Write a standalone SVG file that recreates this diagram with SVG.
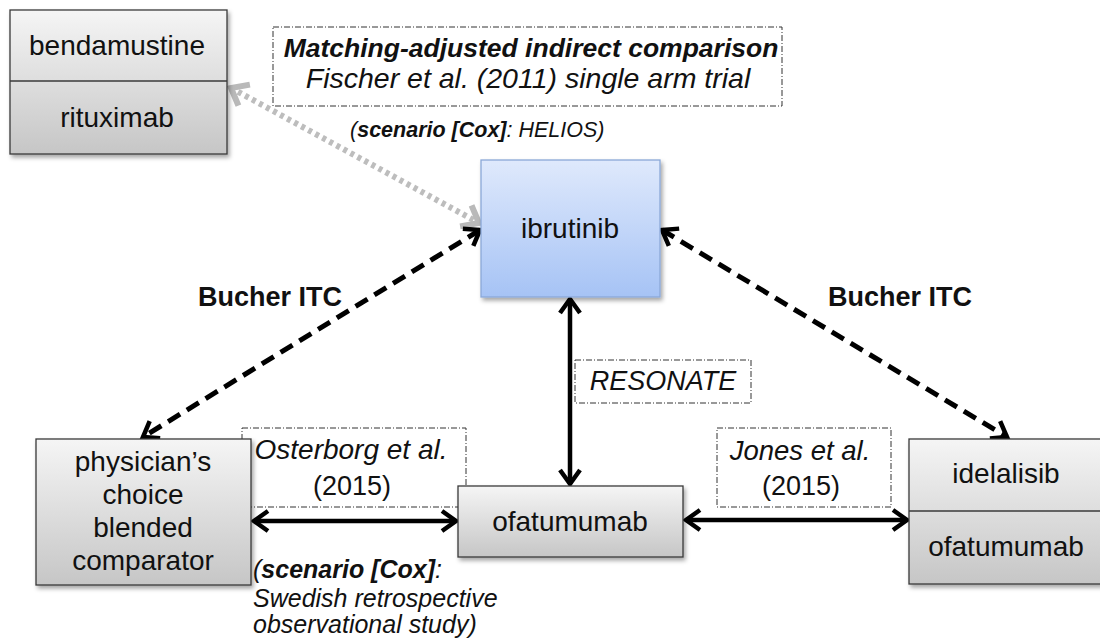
<svg xmlns="http://www.w3.org/2000/svg" width="1100" height="640" viewBox="0 0 1100 640">
  <defs>
    <linearGradient id="gGray" x1="0" y1="0" x2="0" y2="1">
      <stop offset="0" stop-color="#f5f5f5"/>
      <stop offset="1" stop-color="#c6c6c6"/>
    </linearGradient>
    <linearGradient id="gBlue" x1="0" y1="0" x2="0" y2="1">
      <stop offset="0" stop-color="#dfe9fc"/>
      <stop offset="1" stop-color="#a6c3f5"/>
    </linearGradient>
    <filter id="shadow" x="-10%" y="-10%" width="130%" height="130%">
      <feDropShadow dx="2" dy="3" stdDeviation="2" flood-color="#000" flood-opacity="0.35"/>
    </filter>
    <marker id="arrBlack" viewBox="-20 -14 24 28" refX="0" refY="0" markerWidth="24" markerHeight="28" markerUnits="userSpaceOnUse" orient="auto-start-reverse">
      <path d="M -14 -10 L 0 0 L -14 10" fill="none" stroke="#000" stroke-width="4.5" stroke-dasharray="none" stroke-linejoin="miter"/>
    </marker>
    <marker id="arrGray" viewBox="-22 -16 26 32" refX="0" refY="0" markerWidth="26" markerHeight="32" markerUnits="userSpaceOnUse" orient="auto-start-reverse">
      <path d="M -15 -12 L 0 0 L -15 12" fill="none" stroke="#b9b9b9" stroke-width="6" stroke-dasharray="none" stroke-linejoin="miter"/>
    </marker>
    <style>
      .box { fill: url(#gGray); stroke: #3a3a3a; stroke-width: 1.3; filter: url(#shadow); }
      .blue { fill: url(#gBlue); stroke: #8aa8d8; stroke-width: 1.3; filter: url(#shadow); }
      .div { stroke: #3a3a3a; stroke-width: 1.3; }
      .note { fill: #fff; stroke: #333; stroke-width: 1; stroke-dasharray: 6 2 1 2; }
      .lbl { font-family: "Liberation Sans", Arial, sans-serif; font-size: 28px; fill: #111; text-anchor: middle; }
      .it { font-family: "Liberation Sans", Arial, sans-serif; font-size: 28px; fill: #111; font-style: italic; }
      .itc { text-anchor: middle; }
      .bold { font-family: "Liberation Sans", Arial, sans-serif; font-size: 27px; fill: #111; font-weight: bold; }
      .sc { font-family: "Liberation Sans", Arial, sans-serif; font-size: 25px; fill: #111; font-style: italic; }
      .solid { fill: none; stroke: #000; stroke-width: 4.5; marker-start: url(#arrBlack); marker-end: url(#arrBlack); }
      .dash { fill: none; stroke: #000; stroke-width: 5; stroke-dasharray: 14 8; marker-start: url(#arrBlack); marker-end: url(#arrBlack); }
      .dot { fill: none; stroke: #bdbdbd; stroke-width: 6; stroke-dasharray: 4 4; marker-start: url(#arrGray); marker-end: url(#arrGray); }
    </style>
  </defs>
  <rect width="1100" height="640" fill="#fff"/>

  <g id="note-maic">
    <rect class="note" x="273" y="27" width="509" height="79"/>
    <text class="bold" x="531" y="57" text-anchor="middle" font-style="italic" style="font-size:26.5px">Matching-adjusted indirect comparison</text>
    <text class="it itc" x="528" y="88" style="font-size:28.5px">Fischer et al. (2011) single arm trial</text>
  </g>
  <g id="note-helios">
    <text class="sc" x="350" y="137" style="font-size:21.5px">(<tspan font-weight="bold">scenario [Cox]</tspan>: HELIOS)</text>
  </g>
  <g id="note-resonate">
    <rect class="note" x="575" y="360" width="176" height="43"/>
    <text class="it itc" x="663" y="390" style="font-size:27px">RESONATE</text>
  </g>
  <g id="note-osterborg">
    <rect class="note" x="242" y="428" width="224" height="79"/>
    <text class="it itc" x="351" y="459">Osterborg et al.</text>
    <text class="lbl" x="352" y="495" style="font-size:27px">(2015)</text>
  </g>
  <g id="note-jones">
    <rect class="note" x="717" y="428" width="174" height="79"/>
    <text class="it itc" x="800" y="460" style="font-size:27.5px">Jones et al.</text>
    <text class="lbl" x="801" y="495" style="font-size:27px">(2015)</text>
  </g>
  <g id="note-swedish">
    <text class="sc" x="253" y="578">(<tspan font-weight="bold">scenario [Cox]</tspan>:</text>
    <text class="sc" x="253" y="607">Swedish retrospective</text>
    <text class="sc" x="253" y="633">observational study)</text>
  </g>
  <g id="label-bucher-left">
    <text class="bold" x="198" y="306">Bucher ITC</text>
  </g>
  <g id="label-bucher-right">
    <text class="bold" x="828" y="306">Bucher ITC</text>
  </g>

  <g id="connectors">
    <line class="dot" x1="231" y1="88" x2="479" y2="223"/>
    <line class="dash" x1="480" y1="230" x2="143" y2="437"/>
    <line class="dash" x1="662" y1="230" x2="1007" y2="437"/>
    <line class="solid" x1="570" y1="299" x2="570" y2="484"/>
    <line class="solid" x1="254" y1="521" x2="456" y2="521"/>
    <line class="solid" x1="686" y1="520" x2="907" y2="520"/>
  </g>

  <g id="node-bendamustine-rituximab">
    <rect class="box" x="10" y="10" width="217" height="144"/>
    <line class="div" x1="10" y1="81" x2="227" y2="81"/>
    <text class="lbl" x="117" y="55">bendamustine</text>
    <text class="lbl" x="117" y="127">rituximab</text>
  </g>
  <g id="node-ibrutinib">
    <rect class="blue" x="481" y="160" width="179" height="137"/>
    <text class="lbl" x="570" y="238">ibrutinib</text>
  </g>
  <g id="node-physician">
    <rect class="box" x="36" y="439" width="215" height="146"/>
    <text class="lbl" x="143" y="471">physician’s</text>
    <text class="lbl" x="143" y="504">choice</text>
    <text class="lbl" x="143" y="537">blended</text>
    <text class="lbl" x="143" y="570">comparator</text>
  </g>
  <g id="node-ofatumumab">
    <rect class="box" x="458" y="486" width="225" height="71"/>
    <text class="lbl" x="570" y="531">ofatumumab</text>
  </g>
  <g id="node-idelalisib-ofatumumab">
    <rect class="box" x="909" y="439" width="194" height="145"/>
    <line class="div" x1="909" y1="511" x2="1100" y2="511"/>
    <text class="lbl" x="1006" y="483">idelalisib</text>
    <text class="lbl" x="1006" y="556">ofatumumab</text>
  </g>
</svg>
